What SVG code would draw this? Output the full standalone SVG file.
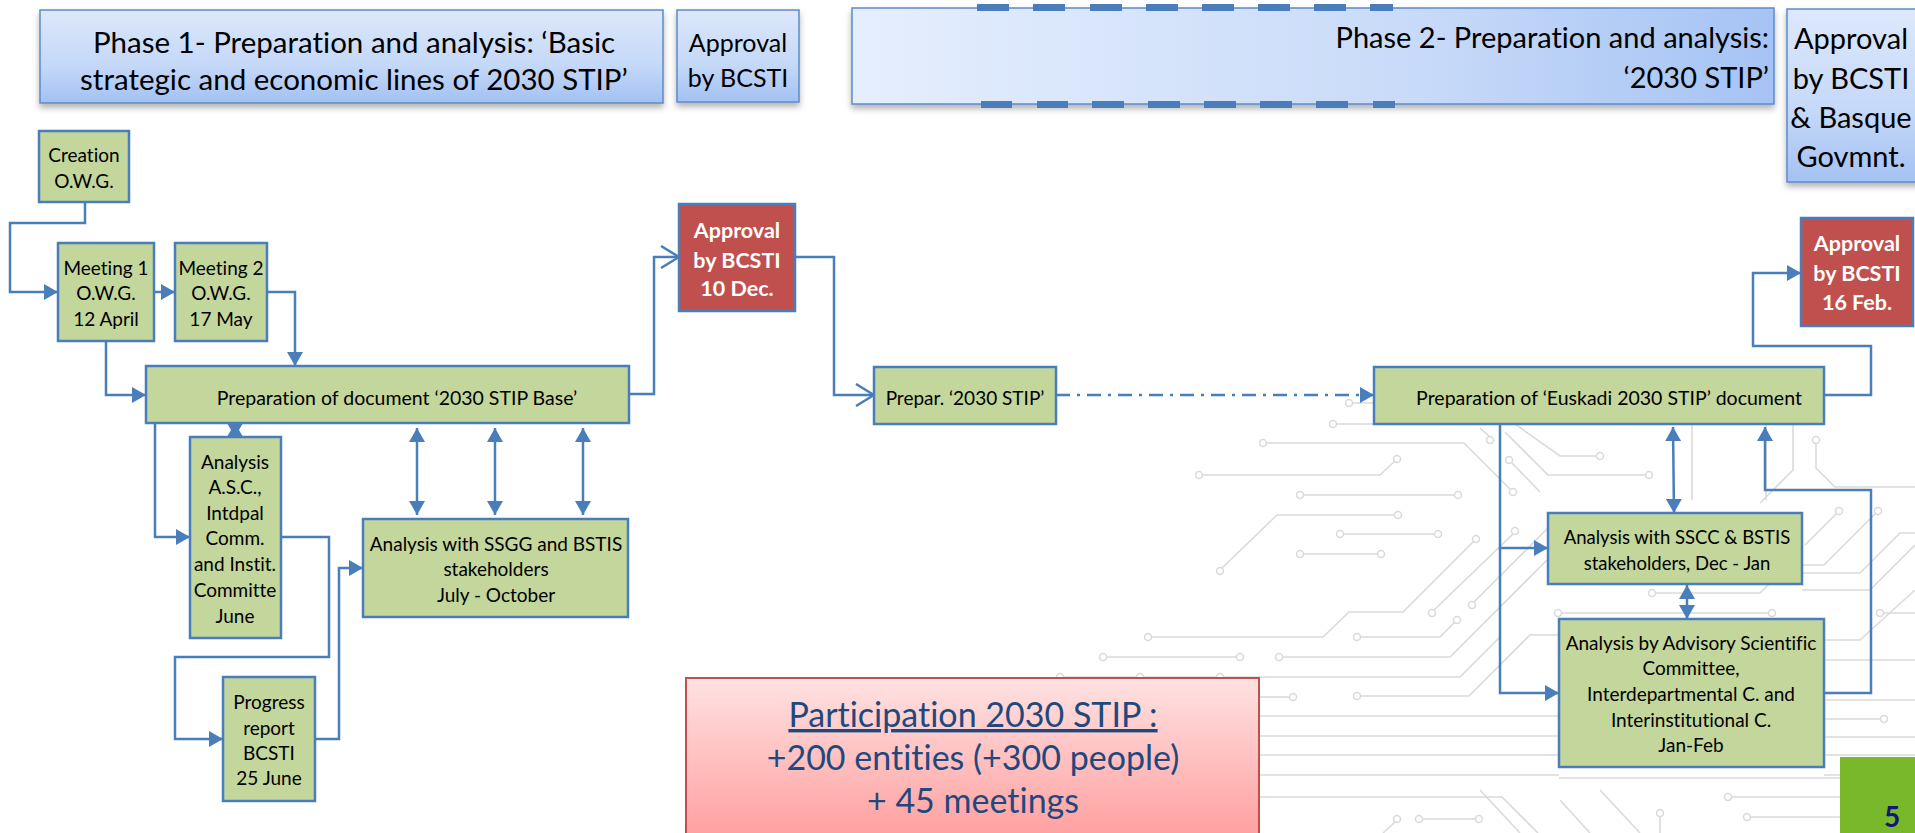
<svg xmlns="http://www.w3.org/2000/svg" width="1915" height="833" viewBox="0 0 1915 833">
  <style>
    text { font-variant-ligatures: none; }
    .t { font-family: Lato, "Liberation Sans", sans-serif; fill: #000; }
    .box { fill: #C3D69B; stroke: #4A7EBB; stroke-width: 2.5; }
    .red { fill: #C0504D; stroke: #4A7EBB; stroke-width: 2.5; }
    .rt { font-family: Lato, "Liberation Sans", sans-serif; fill: #fff; font-weight: bold; }
    .hdr { stroke: #5C8BCB; stroke-width: 1.5; }
    .con { fill: none; stroke: #4A7EBB; stroke-width: 2.5; }
    .dash { fill: #4A7EBB; }
    .cb path { fill: none; stroke: #DADADA; stroke-width: 1.6; }
    .cb circle { fill: #fff; stroke: #DADADA; stroke-width: 1.5; }
  </style>
  <defs>
    <linearGradient id="gV" x1="0" y1="0" x2="0" y2="1">
      <stop offset="0" stop-color="#DDE8FB"/>
      <stop offset="0.6" stop-color="#C4D8F8"/>
      <stop offset="1" stop-color="#A3C1F3"/>
    </linearGradient>
    <linearGradient id="gH" x1="0" y1="0" x2="1" y2="0">
      <stop offset="0" stop-color="#E5EEFD"/>
      <stop offset="0.6" stop-color="#C9DBF9"/>
      <stop offset="1" stop-color="#A5C3F4"/>
    </linearGradient>
    <linearGradient id="gP" x1="0" y1="0" x2="0" y2="1">
      <stop offset="0" stop-color="#FFE2E2"/>
      <stop offset="1" stop-color="#FF9D9D"/>
    </linearGradient>
    <filter id="sh" x="-5%" y="-10%" width="110%" height="130%">
      <feDropShadow dx="0" dy="4" stdDeviation="3" flood-color="#000" flood-opacity="0.3"/>
    </filter>
    <marker id="ah" viewBox="0 0 14 16" refX="14" refY="8" markerWidth="14" markerHeight="16" markerUnits="userSpaceOnUse" orient="auto-start-reverse">
      <path d="M0,0 L14,8 L0,16 z" fill="#4A7EBB"/>
    </marker>
    <marker id="ao" viewBox="0 0 20 24" refX="19" refY="12" markerWidth="20" markerHeight="24" markerUnits="userSpaceOnUse" orient="auto">
      <path d="M1,1 L19,12 L1,23" fill="none" stroke="#4A7EBB" stroke-width="2.5"/>
    </marker>
  </defs>

  <rect width="1915" height="833" fill="#fff"/>

  <!-- circuit-board backdrop -->
  <g id="circuit" class="cb">
    <path d="M1353,403 H1374 M1337,424 H1374"/>
    <path d="M1266,443 H1464 L1510,489"/>
    <path d="M1202,475 H1380 L1395,461"/>
    <path d="M1304,495 H1455"/>
    <path d="M1222,568 L1277,515 H1395"/>
    <path d="M1344,534 H1435"/>
    <path d="M1304,554 H1378"/>
    <path d="M1152,637 H1323 L1349,612 H1403 L1474,541"/>
    <path d="M1434,610 L1513,534"/>
    <path d="M1474,602 L1548,528"/>
    <path d="M1361,637 H1440 L1455,622"/>
    <path d="M1107,657 H1237"/>
    <path d="M1283,657 H1450 L1548,559"/>
    <path d="M1060,677 H1460 L1500,637"/>
    <path d="M1260,697 H1290"/>
    <path d="M1361,696 H1469 L1530,635 H1559"/>
    <path d="M1250,716 H1559 M1250,736 H1559 M1250,755 H1559 M1250,775 H1559"/>
    <path d="M1250,797 H1502 L1538,833"/>
    <path d="M1395,822 L1383,833"/>
    <path d="M1423,819 H1476"/>
    <path d="M1515,424 L1560,456 H1596"/>
    <path d="M1480,428 L1490,437"/>
    <path d="M1505,432 L1548,475 H1646"/>
    <path d="M1512,463 L1540,492"/>
    <path d="M1692,424 V500 M1793,424 V470 L1760,503 M1766,424 V500"/>
    <path d="M1816,444 V468 L1835,487 H1915"/>
    <path d="M1836,514 L1805,545"/>
    <path d="M1875,514 L1824,565 H1802"/>
    <path d="M1802,573 H1860 L1900,533 H1915"/>
    <path d="M1802,590 H1870 L1915,545"/>
    <path d="M1655,593 H1760 L1790,563"/>
    <path d="M1562,613 H1769"/>
    <path d="M1824,640 H1860 L1915,590 M1824,660 H1915 M1883,613 H1915"/>
    <path d="M1824,700 H1915 M1824,719 H1881 M1824,737 H1915 M1824,755 H1915 M1824,775 H1840"/>
    <path d="M1559,778 H1840 M1731,797 H1840 M1750,817 H1840 M1660,816 V833"/>
    <path d="M1480,790 L1520,833 M1560,800 L1590,833 M1600,790 L1640,833"/>
    <circle cx="1349" cy="403" r="3.5"/><circle cx="1333" cy="424" r="3.5"/>
    <circle cx="1263" cy="443" r="3.5"/><circle cx="1513" cy="492" r="3.5"/>
    <circle cx="1199" cy="475" r="3.5"/><circle cx="1397" cy="459" r="3.5"/>
    <circle cx="1300" cy="495" r="3.5"/><circle cx="1458" cy="495" r="3.5"/>
    <circle cx="1220" cy="571" r="3.5"/><circle cx="1398" cy="515" r="3.5"/>
    <circle cx="1340" cy="534" r="3.5"/><circle cx="1438" cy="534" r="3.5"/>
    <circle cx="1300" cy="554" r="3.5"/><circle cx="1381" cy="554" r="3.5"/>
    <circle cx="1148" cy="637" r="3.5"/><circle cx="1476" cy="539" r="3.5"/>
    <circle cx="1432" cy="613" r="3.5"/><circle cx="1515" cy="531" r="3.5"/>
    <circle cx="1472" cy="605" r="3.5"/><circle cx="1357" cy="637" r="3.5"/>
    <circle cx="1457" cy="620" r="3.5"/><circle cx="1103" cy="657" r="3.5"/>
    <circle cx="1240" cy="657" r="3.5"/><circle cx="1279" cy="657" r="3.5"/>
    <circle cx="1060" cy="677" r="3.5"/><circle cx="1140" cy="677" r="3.5"/>
    <circle cx="1220" cy="677" r="3.5"/><circle cx="1293" cy="697" r="3.5"/>
    <circle cx="1357" cy="696" r="3.5"/><circle cx="1397" cy="819" r="3.5"/>
    <circle cx="1419" cy="819" r="3.5"/><circle cx="1479" cy="819" r="3.5"/>
    <circle cx="1600" cy="456" r="3.5"/><circle cx="1649" cy="475" r="3.5"/>
    <circle cx="1490" cy="440" r="3.5"/><circle cx="1509" cy="460" r="3.5"/>
    <circle cx="1816" cy="440" r="3.5"/><circle cx="1839" cy="511" r="3.5"/>
    <circle cx="1878" cy="511" r="3.5"/><circle cx="1652" cy="593" r="3.5"/>
    <circle cx="1772" cy="613" r="3.5"/><circle cx="1558" cy="613" r="3.5"/>
    <circle cx="1884" cy="719" r="3.5"/><circle cx="1728" cy="797" r="3.5"/>
    <circle cx="1747" cy="817" r="3.5"/><circle cx="1660" cy="813" r="3.5"/>
    <circle cx="1880" cy="613" r="3.5"/>
  </g>

  <!-- connectors -->
  <g id="connectors">
    <path class="con" d="M85,202 V223 H10 V292 H58" marker-end="url(#ah)"/>
    <path class="con" d="M154,292 H175" marker-end="url(#ah)"/>
    <path class="con" d="M267,292 H295 V366" marker-end="url(#ah)"/>
    <path class="con" d="M106,341 V395 H146" marker-end="url(#ah)"/>
    <path class="con" d="M629,394 H654 V257 H679" marker-end="url(#ao)"/>
    <path class="con" d="M235,423 V437" marker-start="url(#ah)" marker-end="url(#ah)"/>
    <path class="con" d="M155,423 V537 H190" marker-end="url(#ah)"/>
    <path class="con" d="M281,537 H329 V657 H175 V739 H223" marker-end="url(#ah)"/>
    <path class="con" d="M315,739 H339 V568 H363" marker-end="url(#ah)"/>
    <path class="con" d="M417,428 V515" marker-start="url(#ah)" marker-end="url(#ah)"/>
    <path class="con" d="M495,428 V515" marker-start="url(#ah)" marker-end="url(#ah)"/>
    <path class="con" d="M583,428 V515" marker-start="url(#ah)" marker-end="url(#ah)"/>
    <path class="con" d="M795,257 H834 V395 H874" marker-end="url(#ao)"/>
    <path class="con" d="M1056,395 H1374" stroke-dasharray="14 7 3 7" marker-end="url(#ah)"/>
    <path class="con" d="M1824,395 H1871 V346 H1753 V273 H1801" marker-end="url(#ah)"/>
    <path class="con" d="M1500,424 V548 H1548" marker-end="url(#ah)"/>
    <path class="con" d="M1500,548 V693 H1559" marker-end="url(#ah)"/>
    <path class="con" d="M1673,427 L1674,513" marker-start="url(#ah)" marker-end="url(#ah)"/>
    <path class="con" d="M1824,693 H1871 V490 H1765 V427" marker-end="url(#ah)"/>
    <path class="con" d="M1687,585 V619" marker-start="url(#ah)" marker-end="url(#ah)"/>
  </g>

  <!-- header bands -->
  <g id="phase1">
    <rect class="hdr" x="40" y="10" width="623" height="93" fill="url(#gV)" filter="url(#sh)"/>
    <text class="t" font-size="29.5" text-anchor="middle"><tspan x="354" y="53">Phase 1- Preparation and analysis: ‘Basic</tspan><tspan x="354" y="90">strategic and economic lines of 2030 STIP’</tspan></text>
  </g>
  <g id="approval-phase1">
    <rect class="hdr" x="677" y="10" width="122" height="92" fill="url(#gV)" filter="url(#sh)"/>
    <text class="t" font-size="25" text-anchor="middle"><tspan x="738" y="52">Approval</tspan><tspan x="738" y="87">by BCSTI</tspan></text>
  </g>
  <g id="phase2">
    <rect class="hdr" x="852" y="8" width="922" height="96" fill="url(#gH)" filter="url(#sh)"/>
    <rect class="dash" x="977" y="4" width="32" height="7"/><rect class="dash" x="1033" y="4" width="32" height="7"/>
    <rect class="dash" x="1090" y="4" width="32" height="7"/><rect class="dash" x="1146" y="4" width="32" height="7"/>
    <rect class="dash" x="1202" y="4" width="32" height="7"/><rect class="dash" x="1258" y="4" width="32" height="7"/>
    <rect class="dash" x="1314" y="4" width="32" height="7"/><rect class="dash" x="1370" y="4" width="23" height="7"/>
    <rect class="dash" x="981" y="101" width="31" height="7"/><rect class="dash" x="1037" y="101" width="31" height="7"/>
    <rect class="dash" x="1092" y="101" width="32" height="7"/><rect class="dash" x="1148" y="101" width="32" height="7"/>
    <rect class="dash" x="1204" y="101" width="32" height="7"/><rect class="dash" x="1260" y="101" width="32" height="7"/>
    <rect class="dash" x="1316" y="101" width="32" height="7"/><rect class="dash" x="1373" y="101" width="22" height="7"/>
    <text class="t" font-size="29" text-anchor="end"><tspan x="1769" y="48">Phase 2- Preparation and analysis:</tspan><tspan x="1769" y="88">‘2030 STIP’</tspan></text>
  </g>
  <g id="approval-phase2">
    <rect class="hdr" x="1787" y="9" width="140" height="173" fill="url(#gV)" filter="url(#sh)"/>
    <text class="t" font-size="29" text-anchor="middle"><tspan x="1851" y="49">Approval</tspan><tspan x="1851" y="89">by BCSTI</tspan><tspan x="1851" y="128">&amp; Basque</tspan><tspan x="1851" y="167">Govmnt.</tspan></text>
  </g>

  <!-- phase 1 flow -->
  <g id="creation">
    <rect class="box" x="39" y="131" width="90" height="71"/>
    <text class="t" font-size="19" text-anchor="middle"><tspan x="84" y="162">Creation</tspan><tspan x="84" y="188">O.W.G.</tspan></text>
  </g>
  <g id="meeting1">
    <rect class="box" x="58" y="243" width="96" height="98"/>
    <text class="t" font-size="19" text-anchor="middle"><tspan x="106" y="275">Meeting 1</tspan><tspan x="106" y="300">O.W.G.</tspan><tspan x="106" y="326">12 April</tspan></text>
  </g>
  <g id="meeting2">
    <rect class="box" x="175" y="243" width="92" height="98"/>
    <text class="t" font-size="19" text-anchor="middle"><tspan x="221" y="275">Meeting 2</tspan><tspan x="221" y="300">O.W.G.</tspan><tspan x="221" y="326">17 May</tspan></text>
  </g>
  <g id="prep-base">
    <rect class="box" x="146" y="366" width="483" height="57"/>
    <text class="t" font-size="19.5" text-anchor="middle" x="397" y="405">Preparation of document ‘2030 STIP Base’</text>
  </g>
  <g id="analysis-asc">
    <rect class="box" x="190" y="437" width="91" height="201"/>
    <text class="t" font-size="19" text-anchor="middle"><tspan x="235" y="469">Analysis</tspan><tspan x="235" y="494">A.S.C.,</tspan><tspan x="235" y="520">Intdpal</tspan><tspan x="235" y="545">Comm.</tspan><tspan x="235" y="571">and Instit.</tspan><tspan x="235" y="597">Committe</tspan><tspan x="235" y="623">June</tspan></text>
  </g>
  <g id="progress">
    <rect class="box" x="223" y="677" width="92" height="124"/>
    <text class="t" font-size="19" text-anchor="middle"><tspan x="269" y="709">Progress</tspan><tspan x="269" y="735">report</tspan><tspan x="269" y="760">BCSTI</tspan><tspan x="269" y="785">25 June</tspan></text>
  </g>
  <g id="analysis-ssgg">
    <rect class="box" x="363" y="519" width="265" height="98"/>
    <text class="t" font-size="19" text-anchor="middle"><tspan x="496" y="551">Analysis with SSGG and BSTIS</tspan><tspan x="496" y="576">stakeholders</tspan><tspan x="496" y="602">July - October</tspan></text>
  </g>
  <g id="approval-dec">
    <rect class="red" x="679" y="204" width="116" height="107"/>
    <text class="rt" font-size="21.5" text-anchor="middle"><tspan x="737" y="238">Approval</tspan><tspan x="737" y="268">by BCSTI</tspan><tspan x="737" y="296">10 Dec.</tspan></text>
  </g>

  <!-- phase 2 flow -->
  <g id="prepar">
    <rect class="box" x="874" y="367" width="182" height="57"/>
    <text class="t" font-size="19" text-anchor="middle" x="965" y="405">Prepar. ‘2030 STIP’</text>
  </g>
  <g id="prep-euskadi">
    <rect class="box" x="1374" y="367" width="450" height="57"/>
    <text class="t" font-size="19.5" text-anchor="middle" x="1609" y="405">Preparation of ‘Euskadi 2030 STIP’ document</text>
  </g>
  <g id="approval-feb">
    <rect class="red" x="1801" y="218" width="112" height="108"/>
    <text class="rt" font-size="21.5" text-anchor="middle"><tspan x="1857" y="251">Approval</tspan><tspan x="1857" y="281">by BCSTI</tspan><tspan x="1857" y="310">16 Feb.</tspan></text>
  </g>
  <g id="analysis-sscc">
    <rect class="box" x="1548" y="513" width="254" height="71"/>
    <text class="t" font-size="18.5" text-anchor="middle"><tspan x="1677" y="544">Analysis with SSCC &amp; BSTIS</tspan><tspan x="1677" y="570">stakeholders, Dec - Jan</tspan></text>
  </g>
  <g id="analysis-committees">
    <rect class="box" x="1559" y="619" width="265" height="148"/>
    <text class="t" font-size="19" text-anchor="middle"><tspan x="1691" y="650">Analysis by Advisory Scientific</tspan><tspan x="1691" y="675">Committee,</tspan><tspan x="1691" y="701">Interdepartmental C. and</tspan><tspan x="1691" y="727">Interinstitutional  C.</tspan><tspan x="1691" y="752">Jan-Feb</tspan></text>
  </g>

  <!-- participation summary -->
  <g id="participation">
    <rect x="686" y="678" width="573" height="165" fill="url(#gP)" stroke="#C0504D" stroke-width="2"/>
    <text font-family="Lato, 'Liberation Sans', sans-serif" font-size="34" fill="#1F497D" text-anchor="middle"><tspan x="973" y="727" text-decoration="underline">Participation 2030 STIP :</tspan><tspan x="973" y="770">+200 entities (+300 people)</tspan><tspan x="973" y="813">+ 45 meetings</tspan></text>
  </g>

  <!-- page number -->
  <g id="page-number">
    <rect x="1840" y="757" width="75" height="76" fill="#78B82A"/>
    <text font-family="Lato, 'Liberation Sans', sans-serif" font-size="28" font-weight="bold" fill="#14147A" text-anchor="middle" x="1892" y="827">5</text>
  </g>
</svg>
